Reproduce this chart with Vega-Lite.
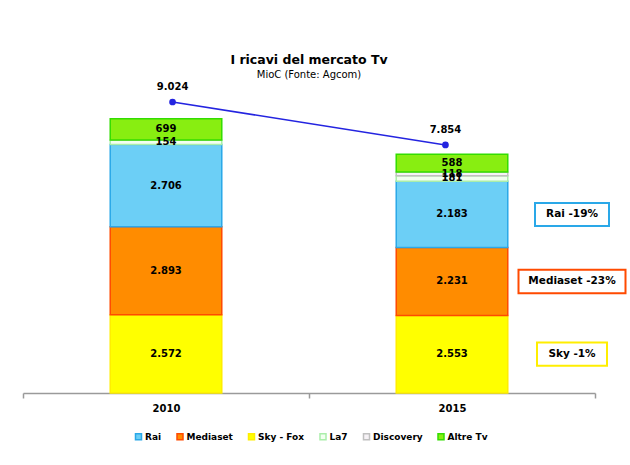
{
  "$schema": "https://vega.github.io/schema/vega-lite/v6.json",
  "width": 572,
  "height": 303,
  "autosize": {"type": "none"},
  "padding": {"left": 23, "top": 90, "right": 35, "bottom": 72},
  "background": "white",
  "config": {
    "font": "DejaVu Sans",
    "view": {"stroke": null},
    "locale": {"number": {"decimal": ",", "thousands": ".", "grouping": [3], "currency": ["", " €"]}}
  },
  "title": {
    "text": "I ricavi del mercato Tv",
    "subtitle": "MioC (Fonte: Agcom)",
    "fontSize": 12.5,
    "fontWeight": "bold",
    "color": "black",
    "subtitleFontSize": 10,
    "subtitleColor": "black",
    "anchor": "middle",
    "frame": "group",
    "offset": 2,
    "subtitlePadding": 3
  },
  "datasets": {
    "ricavi": [
      {"anno": "2010", "emittente": "Sky - Fox", "ricavi": 2572},
      {"anno": "2010", "emittente": "Mediaset", "ricavi": 2893},
      {"anno": "2010", "emittente": "Rai", "ricavi": 2706},
      {"anno": "2010", "emittente": "La7", "ricavi": 154},
      {"anno": "2010", "emittente": "Discovery", "ricavi": 0},
      {"anno": "2010", "emittente": "Altre Tv", "ricavi": 699},
      {"anno": "2015", "emittente": "Sky - Fox", "ricavi": 2553},
      {"anno": "2015", "emittente": "Mediaset", "ricavi": 2231},
      {"anno": "2015", "emittente": "Rai", "ricavi": 2183},
      {"anno": "2015", "emittente": "La7", "ricavi": 181},
      {"anno": "2015", "emittente": "Discovery", "ricavi": 118},
      {"anno": "2015", "emittente": "Altre Tv", "ricavi": 588}
    ],
    "totali": [
      {"anno": "2010", "totale": 9024},
      {"anno": "2015", "totale": 7854}
    ]
  },
  "layer": [
    {
      "data": {"name": "ricavi"},
      "transform": [
        {"calculate": "indexof(['Sky - Fox','Mediaset','Rai','La7','Discovery','Altre Tv'], datum.emittente)", "as": "ordine"},
        {"stack": "ricavi", "groupby": ["anno"], "sort": [{"field": "ordine", "order": "ascending"}], "as": ["y0", "y1"]},
        {"calculate": "(datum.y0 + datum.y1) / 2", "as": "ymid"}
      ],
      "encoding": {
        "x": {
          "field": "anno",
          "type": "nominal",
          "scale": {"paddingInner": 0, "paddingOuter": 0},
          "axis": {
            "title": null,
            "labelAngle": 0,
            "labelFontWeight": "bold",
            "labelFontSize": 10,
            "labelColor": "black",
            "labelPadding": 5,
            "domainColor": "#9a9a9a",
            "domainWidth": 1.5,
            "tickColor": "#9a9a9a",
            "tickWidth": 1.5,
            "tickSize": 5,
            "tickBand": "extent"
          }
        }
      },
      "layer": [
        {
          "mark": {"type": "bar", "width": {"band": 0.39}, "strokeWidth": 1.5},
          "encoding": {
            "y": {"field": "y0", "type": "quantitative", "scale": {"domain": [0, 9967], "nice": false}, "axis": null},
            "y2": {"field": "y1"},
            "color": {
              "field": "emittente",
              "type": "nominal",
              "scale": {
                "domain": ["Rai", "Mediaset", "Sky - Fox", "La7", "Discovery", "Altre Tv"],
                "range": ["#6ccff6", "#ff8c00", "#ffff00", "#f2fff0", "#f6f2f6", "#88ee11"]
              },
              "legend": {
                "orient": "none",
                "legendX": 111,
                "legendY": 342,
                "direction": "horizontal",
                "title": null,
                "symbolType": "square",
                "symbolSize": 36,
                "labelFontSize": 9,
                "labelFontWeight": "bold",
                "labelColor": "black",
                "columnPadding": 11.5,
                "labelOffset": 2
              }
            },
            "stroke": {
              "field": "emittente",
              "type": "nominal",
              "scale": {
                "domain": ["Rai", "Mediaset", "Sky - Fox", "La7", "Discovery", "Altre Tv"],
                "range": ["#2aa8e8", "#ff4a00", "#ffee00", "#aaeeaa", "#c0c0c0", "#33dd00"]
              },
              "legend": {
                "orient": "none",
                "legendX": 111,
                "legendY": 342,
                "direction": "horizontal",
                "title": null,
                "symbolType": "square",
                "symbolSize": 36,
                "labelFontSize": 9,
                "labelFontWeight": "bold",
                "labelColor": "black",
                "columnPadding": 11.5,
                "labelOffset": 2
              }
            }
          }
        },
        {
          "transform": [{"filter": "datum.ricavi > 0"}],
          "mark": {"type": "text", "fontWeight": "bold", "fontSize": 10, "color": "black"},
          "encoding": {
            "y": {"field": "ymid", "type": "quantitative", "stack": null},
            "text": {"field": "ricavi", "type": "quantitative", "format": ",.0f"}
          }
        },
        {
          "transform": [
            {"filter": "datum.anno == '2015'"},
            {"lookup": "emittente", "from": {"data": {"values": [
              {"emittente": "Rai", "nota": "Rai -19%"},
              {"emittente": "Mediaset", "nota": "Mediaset -23%"},
              {"emittente": "Sky - Fox", "nota": "Sky -1%"}
            ]}, "key": "emittente", "fields": ["nota"]}},
            {"filter": "datum.nota != null"}
          ],
          "mark": {"type": "point", "xOffset": 120, "filled": false, "strokeWidth": 2, "opacity": 1},
          "encoding": {
            "y": {"field": "ymid", "type": "quantitative", "stack": null},
            "stroke": {"field": "emittente", "type": "nominal"},
            "shape": {
              "field": "emittente",
              "type": "nominal",
              "scale": {
                "domain": ["Rai", "Mediaset", "Sky - Fox"],
                "range": ["M-1,-0.311L1,-0.311L1,0.311L-1,0.311Z", "M-1,-0.218L1,-0.218L1,0.218L-1,0.218Z", "M-1,-0.333L1,-0.333L1,0.333L-1,0.333Z"]
              },
              "legend": null
            },
            "size": {
              "field": "emittente",
              "type": "nominal",
              "scale": {"type": "ordinal", "domain": ["Rai", "Mediaset", "Sky - Fox"], "range": [5476, 11449, 4900]},
              "legend": null
            }
          }
        },
        {
          "transform": [
            {"filter": "datum.anno == '2015'"},
            {"lookup": "emittente", "from": {"data": {"values": [
              {"emittente": "Rai", "nota": "Rai -19%"},
              {"emittente": "Mediaset", "nota": "Mediaset -23%"},
              {"emittente": "Sky - Fox", "nota": "Sky -1%"}
            ]}, "key": "emittente", "fields": ["nota"]}},
            {"filter": "datum.nota != null"}
          ],
          "mark": {"type": "text", "dx": 120, "fontWeight": "bold", "fontSize": 10.5, "color": "black"},
          "encoding": {
            "y": {"field": "ymid", "type": "quantitative", "stack": null},
            "text": {"field": "nota", "type": "nominal"}
          }
        }
      ]
    },
    {
      "data": {"name": "totali"},
      "encoding": {
        "x": {"field": "anno", "type": "ordinal", "scale": {"type": "point", "padding": 0.548}, "axis": null},
        "y": {"field": "totale", "type": "quantitative", "scale": {"domain": [1105, 9350], "zero": false, "nice": false}, "axis": null}
      },
      "layer": [
        {"mark": {"type": "line", "color": "#2424e0", "strokeWidth": 1.5}},
        {"mark": {"type": "point", "filled": true, "size": 45, "color": "#2424e0", "opacity": 1}},
        {
          "mark": {"type": "text", "dy": -15, "fontWeight": "bold", "fontSize": 10, "color": "black"},
          "encoding": {"text": {"field": "totale", "type": "quantitative", "format": ",.0f"}}
        }
      ]
    }
  ],
  "resolve": {"scale": {"y": "independent", "x": "independent"}}
}
